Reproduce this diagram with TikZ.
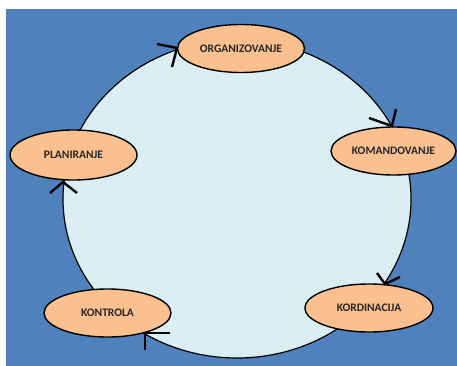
\documentclass[tikz,border=0pt]{standalone}
\usepackage{fontspec}
\setmainfont{Carlito}
\definecolor{panelblue}{HTML}{4F81BD}
\definecolor{ringfill}{HTML}{DBEEF4}
\definecolor{stagefill}{HTML}{FAC090}
\definecolor{labeltext}{HTML}{262626}
\tikzset{
  stage/.style={ellipse, draw=black, line width=1.4pt, fill=stagefill,
    minimum width=#1, inner sep=0pt,
    font=\fontsize{11.5}{13}\selectfont\bfseries, text=labeltext},
  chev/.style={draw=black, line width=2.4pt, line join=miter},
}
\usetikzlibrary{shapes.geometric}
\begin{document}
\begin{tikzpicture}[x=1pt,y=-1pt]
\useasboundingbox (0,0) rectangle (457,366);
% background panel
\fill[panelblue] (6,9) rectangle (457,366);
% cycle ring
\draw[fill=ringfill, line width=1.2pt] (237,199) ellipse [x radius=174, y radius=159];
% stages
\node[stage=127pt, minimum height=48pt] (org) at (241,48.5) {ORGANIZOVANJE};
\node[stage=125pt, minimum height=48pt] (kom) at (393.5,151) {KOMANDOVANJE};
\node[stage=128pt, minimum height=48pt] (kor) at (369,308) {KORDINACIJA};
\node[stage=127pt, minimum height=50pt] (pla) at (73.5,155) {PLANIRANJE};
\node[stage=127pt, minimum height=48pt] (kon) at (107.5,313) {KONTROLA};
% direction marks on the ring
\draw[chev] (157,44) -- (177,48) -- (172,67);
\draw[chev] (369,118) -- (392,126) -- (396,109);
\draw[chev] (377,273) -- (385,284) -- (400,277);
\draw[chev] (170,333) -- (145,333) -- (145,350);
\draw[chev] (50,193) -- (63,182) -- (77,193);
\end{tikzpicture}
\end{document}
